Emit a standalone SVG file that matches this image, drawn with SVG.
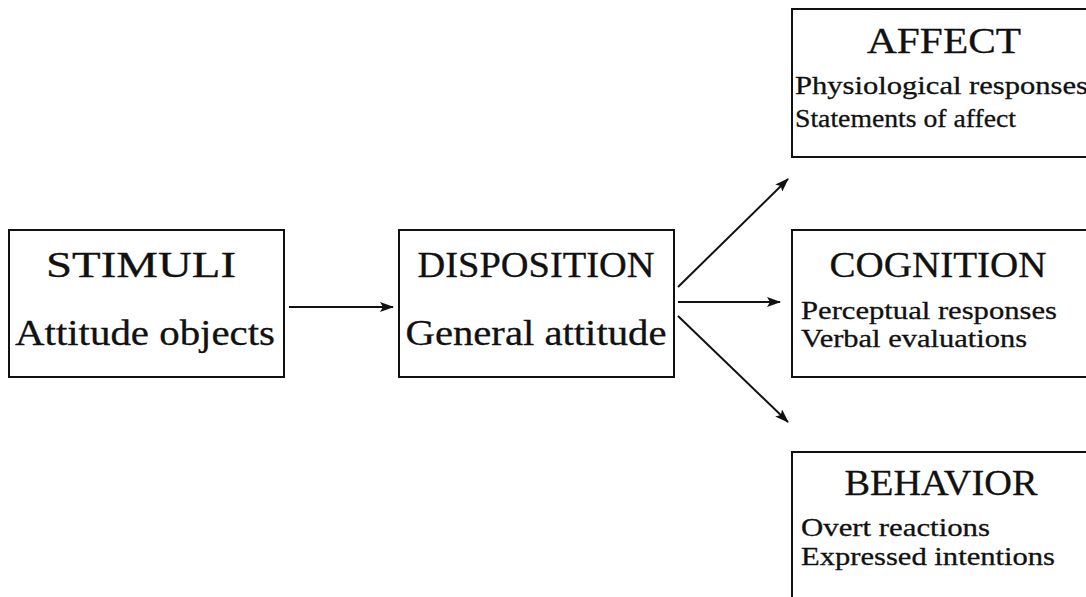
<svg xmlns="http://www.w3.org/2000/svg" width="1086" height="597" viewBox="0 0 1086 597">
<defs>
<style>
.box{fill:#fff;stroke:#111;stroke-width:2}
.t{font-family:"Liberation Serif","Times New Roman",serif;fill:#111;stroke:#111;stroke-width:0.3}
.h{font-size:35px;text-anchor:middle}
.s{font-size:35px;text-anchor:middle}
.l{font-size:25px}
.c{stroke:#111;stroke-width:2;fill:none;marker-end:url(#ah)}
</style>
<marker id="ah" viewBox="0 0 14 10" refX="13" refY="5" markerWidth="14" markerHeight="10" markerUnits="userSpaceOnUse" orient="auto">
<path d="M0,0 L14,5 L0,10 L3,5 Z" fill="#111"/>
</marker>
</defs>
<rect width="1086" height="597" fill="#fff"/>
<g id="connectors">
<line class="c" x1="289" y1="307" x2="393" y2="307"/>
<line class="c" x1="678" y1="302" x2="780" y2="302"/>
<line class="c" x1="678" y1="287" x2="788" y2="179"/>
<line class="c" x1="678" y1="316" x2="788" y2="422"/>
</g>
<g id="stimuli">
<rect class="box" x="9" y="230" width="275" height="147"/>
<text class="t h" x="141" y="277" textLength="190" lengthAdjust="spacingAndGlyphs">STIMULI</text>
<text class="t s" x="145" y="345" textLength="260" lengthAdjust="spacingAndGlyphs">Attitude objects</text>
</g>
<g id="disposition">
<rect class="box" x="399" y="230" width="275" height="147"/>
<text class="t h" x="536" y="277" textLength="237" lengthAdjust="spacingAndGlyphs">DISPOSITION</text>
<text class="t s" x="536" y="345" textLength="261" lengthAdjust="spacingAndGlyphs">General attitude</text>
</g>
<g id="affect">
<rect class="box" x="792" y="9" width="300" height="148"/>
<text class="t h" x="944" y="53" textLength="154" lengthAdjust="spacingAndGlyphs">AFFECT</text>
<text class="t l" x="795" y="94" textLength="293" lengthAdjust="spacingAndGlyphs">Physiological responses</text>
<text class="t l" x="795" y="127" textLength="221" lengthAdjust="spacingAndGlyphs">Statements of affect</text>
</g>
<g id="cognition">
<rect class="box" x="792" y="230" width="300" height="147"/>
<text class="t h" x="938" y="277" textLength="217" lengthAdjust="spacingAndGlyphs">COGNITION</text>
<text class="t l" x="801" y="319" textLength="256" lengthAdjust="spacingAndGlyphs">Perceptual responses</text>
<text class="t l" x="801" y="347" textLength="226" lengthAdjust="spacingAndGlyphs">Verbal evaluations</text>
</g>
<g id="behavior">
<rect class="box" x="792" y="452" width="300" height="160"/>
<text class="t h" x="941" y="495" textLength="193" lengthAdjust="spacingAndGlyphs">BEHAVIOR</text>
<text class="t l" x="801" y="536" textLength="189" lengthAdjust="spacingAndGlyphs">Overt reactions</text>
<text class="t l" x="801" y="565" textLength="254" lengthAdjust="spacingAndGlyphs">Expressed intentions</text>
</g>
</svg>
